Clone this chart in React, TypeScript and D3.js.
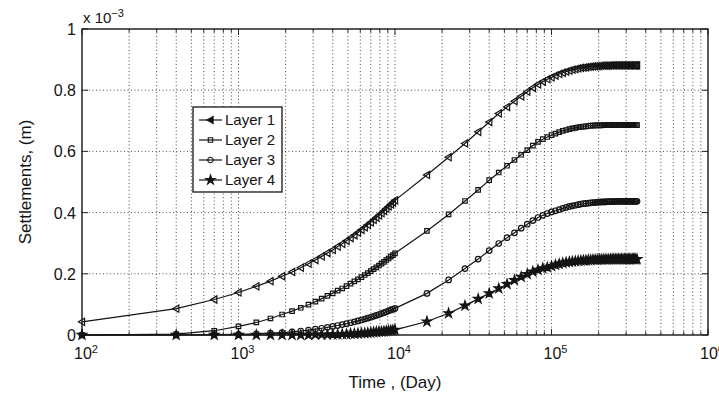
import React, { useEffect } from 'react';
import * as d3 from 'd3';

// Time (days)
const times = [
  100, 400, 700, 1000, 1300, 1600, 1900, 2200, 2500, 2800,
  3100, 3400, 3700, 4000, 4300, 4600, 4900, 5200, 5500, 5800,
  6100, 6400, 6700, 7000, 7300, 7600, 7900, 8200, 8500, 8800,
  9100, 9400, 9700, 10000,
  16000, 22000, 28000, 34000, 40000, 46000, 52000, 58000, 64000, 70000,
  76000, 82000, 88000, 94000, 100000, 106000, 112000, 118000, 124000, 130000,
  136000, 142000, 148000, 154000, 160000, 166000, 172000, 178000, 184000, 190000,
  196000, 202000, 208000, 214000, 220000, 226000, 232000, 238000, 244000, 250000,
  256000, 262000, 268000, 274000, 280000, 286000, 292000, 298000, 304000, 310000,
  316000, 322000, 328000, 334000, 340000, 346000, 352000,
];

// Settlements (x 10^-3 m)
const layer1 = [
  0.043, 0.086, 0.116, 0.139, 0.159, 0.176, 0.192, 0.206, 0.220, 0.233,
  0.245, 0.257, 0.268, 0.278, 0.289, 0.298, 0.308, 0.317, 0.326, 0.335,
  0.344, 0.352, 0.360, 0.368, 0.376, 0.384, 0.391, 0.398, 0.406, 0.413,
  0.420, 0.427, 0.433, 0.440,
  0.523, 0.581, 0.626, 0.664, 0.696, 0.724, 0.745, 0.764, 0.780, 0.795,
  0.808, 0.819, 0.828, 0.836, 0.842, 0.848, 0.853, 0.857, 0.861, 0.864,
  0.867, 0.869, 0.871, 0.873, 0.874, 0.875, 0.876, 0.877, 0.878, 0.878,
  0.879, 0.879, 0.880, 0.880, 0.880, 0.880, 0.880, 0.881, 0.881, 0.881,
  0.881, 0.881, 0.881, 0.881, 0.881, 0.881, 0.881, 0.881, 0.881, 0.881,
  0.881, 0.881, 0.881, 0.881, 0.881, 0.881, 0.881,
];

const layer2 = [
  0.000, 0.003, 0.014, 0.028, 0.041, 0.054, 0.067, 0.078, 0.089, 0.099,
  0.109, 0.119, 0.128, 0.136, 0.145, 0.152, 0.160, 0.168, 0.175, 0.182,
  0.189, 0.196, 0.202, 0.209, 0.215, 0.221, 0.227, 0.233, 0.239, 0.245,
  0.250, 0.256, 0.261, 0.267,
  0.340, 0.394, 0.438, 0.474, 0.506, 0.531, 0.553, 0.572, 0.589, 0.604,
  0.619, 0.631, 0.640, 0.647, 0.653, 0.658, 0.663, 0.667, 0.670, 0.673,
  0.675, 0.677, 0.679, 0.680, 0.681, 0.682, 0.683, 0.684, 0.684, 0.685,
  0.685, 0.685, 0.685, 0.686, 0.686, 0.686, 0.686, 0.686, 0.686, 0.686,
  0.686, 0.686, 0.686, 0.686, 0.686, 0.686, 0.686, 0.686, 0.686, 0.686,
  0.686, 0.686, 0.686, 0.686, 0.686, 0.686, 0.686,
];

const layer3 = [
  0.000, 0.000, 0.001, 0.002, 0.004, 0.006, 0.008, 0.010, 0.013, 0.016,
  0.019, 0.022, 0.025, 0.028, 0.031, 0.034, 0.037, 0.040, 0.043, 0.046,
  0.049, 0.052, 0.055, 0.058, 0.061, 0.064, 0.067, 0.070, 0.073, 0.076,
  0.079, 0.082, 0.084, 0.087,
  0.136, 0.180, 0.217, 0.248, 0.276, 0.299, 0.318, 0.334, 0.349, 0.362,
  0.374, 0.384, 0.391, 0.397, 0.402, 0.406, 0.410, 0.414, 0.417, 0.420,
  0.422, 0.424, 0.426, 0.428, 0.429, 0.430, 0.431, 0.432, 0.433, 0.433,
  0.434, 0.434, 0.435, 0.435, 0.435, 0.436, 0.436, 0.436, 0.436, 0.436,
  0.437, 0.437, 0.437, 0.437, 0.437, 0.437, 0.437, 0.437, 0.437, 0.437,
  0.437, 0.437, 0.437, 0.437, 0.437, 0.437, 0.437,
];

const layer4 = [
  0.000, 0.000, 0.000, 0.000, 0.000, 0.000, 0.000, 0.000, 0.000, 0.000,
  0.001, 0.001, 0.001, 0.002, 0.002, 0.003, 0.003, 0.004, 0.004, 0.005,
  0.006, 0.006, 0.007, 0.008, 0.009, 0.010, 0.011, 0.011, 0.012, 0.013,
  0.014, 0.015, 0.016, 0.017,
  0.044, 0.071, 0.096, 0.118, 0.136, 0.152, 0.166, 0.179, 0.190, 0.199,
  0.207, 0.213, 0.218, 0.221, 0.225, 0.229, 0.232, 0.235, 0.237, 0.239,
  0.240, 0.241, 0.242, 0.243, 0.244, 0.244, 0.245, 0.245, 0.246, 0.246,
  0.246, 0.247, 0.247, 0.247, 0.247, 0.247, 0.247, 0.248, 0.248, 0.248,
  0.248, 0.248, 0.248, 0.248, 0.248, 0.248, 0.248, 0.248, 0.248, 0.248,
  0.248, 0.248, 0.248, 0.248, 0.248, 0.248, 0.248,
];

const seriesNames = ['Layer 1', 'Layer 2', 'Layer 3', 'Layer 4'];
const seriesValues = [layer1, layer2, layer3, layer4];
const markerKinds = ['triLeft', 'square', 'circle', 'star'];

const xTickExponents = [2, 3, 4, 5, 6];
const yTickValues = [0, 0.2, 0.4, 0.6, 0.8, 1];
const yTickLabels = ['0', '0.2', '0.4', '0.6', '0.8', '1'];

const FONT = '"Liberation Sans", Arial, Helvetica, sans-serif';

function markerPath(kind: string): string {
  if (kind === 'triLeft') return 'M-3.6,0L2.6,-3.6L2.6,3.6Z';
  if (kind === 'square') return d3.symbol().type(d3.symbolSquare).size(20)() as string;
  if (kind === 'circle') return d3.symbol().type(d3.symbolCircle).size(24)() as string;
  return d3.symbol().type(d3.symbolStar).size(28)() as string;
}

export default function App() {
  useEffect(() => {
    document.body.style.margin = '0';
  }, []);

  const W = 719, H = 400;
  const L = 82, R = 708, T = 29, B = 335;
  const x = d3.scaleLog().domain([1e2, 1e6]).range([L, R]);
  const y = d3.scaleLinear().domain([0, 1]).range([B, T]);

  const minorX: number[] = [];
  for (let e = 2; e < 6; e++) {
    for (let k = 2; k <= 9; k++) minorX.push(k * Math.pow(10, e));
  }
  const majorX = xTickExponents.map((e) => Math.pow(10, e));

  const line = d3.line<number>()
    .x((_, i) => x(times[i]))
    .y((v) => y(v));

  const ink = '#141414';

  return (
    <svg width={W} height={H} style={{ display: 'block', fontFamily: FONT }}>
      <rect x={0} y={0} width={W} height={H} fill="#fff" />
      {/* grid */}
      <g stroke="#222" strokeWidth={0.8} strokeDasharray="1,2.5">
        {minorX.concat(majorX.slice(1, -1)).map((v, i) => (
          <line key={'gx' + i} x1={x(v)} x2={x(v)} y1={T} y2={B} />
        ))}
        {yTickValues.slice(1, -1).map((v, i) => (
          <line key={'gy' + i} x1={L} x2={R} y1={y(v)} y2={y(v)} />
        ))}
      </g>
      {/* ticks */}
      <g stroke={ink} strokeWidth={0.9}>
        {majorX.map((v, i) => (
          <g key={'mx' + i}>
            <line x1={x(v)} x2={x(v)} y1={B} y2={B - 6} />
            <line x1={x(v)} x2={x(v)} y1={T} y2={T + 6} />
          </g>
        ))}
        {minorX.map((v, i) => (
          <g key={'nx' + i}>
            <line x1={x(v)} x2={x(v)} y1={B} y2={B - 3.5} />
            <line x1={x(v)} x2={x(v)} y1={T} y2={T + 3.5} />
          </g>
        ))}
        {yTickValues.map((v, i) => (
          <g key={'ty' + i}>
            <line x1={L} x2={L + 6} y1={y(v)} y2={y(v)} />
            <line x1={R} x2={R - 6} y1={y(v)} y2={y(v)} />
          </g>
        ))}
      </g>
      {/* series */}
      {seriesValues.map((vals, si) => (
        <g key={'s' + si}>
          <path d={line(vals) as string} fill="none" stroke={ink} strokeWidth={1.2} />
          {vals.map((v, i) => (
            <path
              key={i}
              d={markerPath(markerKinds[si])}
              transform={`translate(${x(times[i])},${y(v)})`}
              fill={markerKinds[si] === 'star' ? ink : 'none'}
              stroke={ink}
              strokeWidth={1.2}
            />
          ))}
        </g>
      ))}
      {/* frame */}
      <rect x={L} y={T} width={R - L} height={B - T} fill="none" stroke={ink} strokeWidth={1.4} />
      {/* y tick labels */}
      {yTickValues.map((v, i) => (
        <text key={'yl' + i} x={L - 6} y={y(v) + 6} textAnchor="end" fontSize={16} fill={ink}>
          {yTickLabels[i]}
        </text>
      ))}
      {/* x tick labels */}
      {xTickExponents.map((e, i) => (
        <text key={'xl' + i} x={x(Math.pow(10, e)) + 4} y={359} textAnchor="middle" fontSize={16} fill={ink}>
          10
          <tspan dy={-6} fontSize={11}>{e}</tspan>
        </text>
      ))}
      {/* exponent label */}
      <text x={L + 1} y={23} fontSize={15} fill={ink}>
        x 10<tspan dy={-6} fontSize={11}>−3</tspan>
      </text>
      {/* axis labels */}
      <text x={(L + R) / 2} y={388} textAnchor="middle" fontSize={17} fill={ink}>Time , (Day)</text>
      <text transform={`translate(31,${(T + B) / 2}) rotate(-90)`} textAnchor="middle" fontSize={17} fill={ink}>
        Settlements, (m)
      </text>
      {/* legend */}
      <g>
        <rect x={193} y={107} width={89} height={85} fill="#fff" stroke={ink} strokeWidth={1.3} />
        {seriesNames.map((name, i) => {
          const cy = 120 + i * 20;
          return (
            <g key={'lg' + i}>
              <line x1={199} x2={222} y1={cy} y2={cy} stroke={ink} strokeWidth={1.2} />
              <path
                d={markerPath(markerKinds[i])}
                transform={`translate(210.5,${cy})`}
                fill={markerKinds[i] === 'star' || markerKinds[i] === 'triLeft' ? ink : 'none'}
                stroke={ink}
                strokeWidth={1.1}
              />
              <text x={225} y={cy + 5} fontSize={15} fill={ink}>{name}</text>
            </g>
          );
        })}
      </g>
    </svg>
  );
}
